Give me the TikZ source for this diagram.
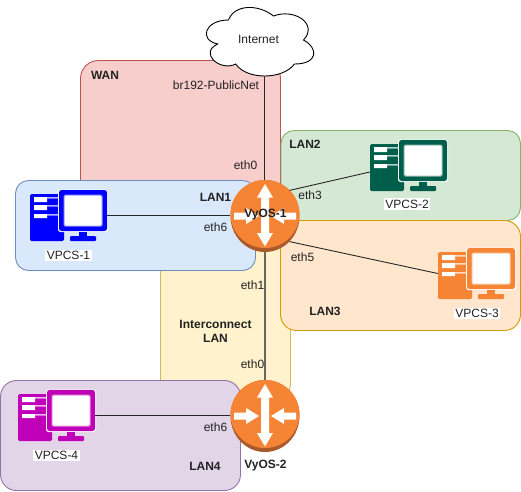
\documentclass[tikz,border=0pt]{standalone}
\usepackage{fontspec}
\setmainfont{Liberation Sans}
\usetikzlibrary{shapes.geometric}
\definecolor{rorange}{HTML}{F58534}
\definecolor{rdark}{HTML}{A9592A}
\definecolor{txt}{HTML}{222222}
\definecolor{pcblue}{HTML}{0000FF}
\definecolor{pcgreen}{HTML}{005F4B}
\definecolor{pcorange}{HTML}{F58534}
\definecolor{pcpurple}{HTML}{BF00B8}
\definecolor{zyd}{HTML}{D6B656}\definecolor{zyf}{HTML}{FFF2CC}
\definecolor{zrd}{HTML}{B85450}\definecolor{zrf}{HTML}{F8CECC}
\definecolor{zgd}{HTML}{82B366}\definecolor{zgf}{HTML}{D5E8D4}
\definecolor{zod}{HTML}{D79B00}\definecolor{zof}{HTML}{FFE6CC}
\definecolor{zbd}{HTML}{6C8EBF}\definecolor{zbf}{HTML}{DAE8FC}
\definecolor{zpd}{HTML}{9673A6}\definecolor{zpf}{HTML}{E1D5E7}
\tikzset{
  x=1pt,y=-1pt,
  zone/.style={line width=0.9pt},
  lbl/.style={font=\fontsize{12}{14}\selectfont,text=txt,inner sep=0pt,align=center},
  blbl/.style={lbl,font=\fontsize{12}{14}\selectfont\bfseries},
  pclbl/.style={lbl,fill=white,inner sep=1.5pt},
  routerbox/.style={ellipse,minimum width=69pt,minimum height=72pt,inner sep=0pt,draw=none},
  pcbox/.style={rectangle,minimum width=77pt,minimum height=51pt,inner sep=0pt,draw=none},
  link/.style={draw=black!85,line width=0.9pt},
}
% PC icon: name, colour, dx, dy
\newcommand{\pcicon}[4]{%
  \begin{scope}[shift={(#3,#4)}]
    \fill[#2,rounded corners=1.5pt] (30,194) rectangle (64,241);
    \fill[white] (34,197) rectangle (47,202) (34,205) rectangle (47,210) (34,214) rectangle (47,218);
    \fill[white!70!#2] (47,197) rectangle (58,198.5) (47,205) rectangle (58,206.5) (47,214) rectangle (58,215.5);
    \fill[white,rounded corners=2.5pt] (58,189.5) rectangle (108,232);
    \fill[#2,rounded corners=2.5pt] (59,190) rectangle (107,231);
    \fill[white!60!#2,rounded corners=1.5pt] (63.5,194.5) rectangle (102.5,226.5);
    \fill[white,rounded corners=1.5pt] (64.5,195.5) rectangle (101.5,225.5);
    \fill[#2] (79,232) rectangle (87,236);
    \fill[#2,rounded corners=1pt] (70,236) rectangle (96,241);
    \node[pcbox] (#1) at (68.5,215.5) {};
  \end{scope}}
% router icon: name, x, y
\newcommand{\routericon}[3]{%
  \fill[rdark] (#2,#3) ellipse [x radius=34.5,y radius=36];
  \fill[rorange] (#2,#3-2) ellipse [x radius=34.5,y radius=34];
  \fill[white] (#2,#3-32) -- (#2+8,#3-18.5) -- (#2+4,#3-18.5) -- (#2+4,#3+17) -- (#2+8,#3+17)
     -- (#2,#3+30.5) -- (#2-8,#3+17) -- (#2-4,#3+17) -- (#2-4,#3-18.5) -- (#2-8,#3-18.5) -- cycle;
  \fill[white] (#2-31,#3-3.5) -- (#2-19,#3-3.5) -- (#2-19,#3-8) -- (#2-6,#3) -- (#2-19,#3+8) -- (#2-19,#3+3.5) -- (#2-31,#3+3.5) -- cycle;
  \fill[white] (#2+31,#3-3.5) -- (#2+19,#3-3.5) -- (#2+19,#3-8) -- (#2+6,#3) -- (#2+19,#3+8) -- (#2+19,#3+3.5) -- (#2+31,#3+3.5) -- cycle;
  \node[routerbox] (#1) at (#2,#3) {};}
\begin{document}
\begin{tikzpicture}
\useasboundingbox (0,0) rectangle (521,491);
% zones
\draw[zone,draw=zyd,fill=zyf,rounded corners=16pt] (160.5,240) rectangle (290.5,400);
\draw[zone,draw=zrd,fill=zrf,rounded corners=18pt] (80.5,60.5) rectangle (280.5,240);
\draw[zone,draw=zgd,fill=zgf,rounded corners=13pt] (281,130.5) rectangle (520.5,220.5);
\draw[zone,draw=zod,fill=zof,rounded corners=16pt] (280.5,220.5) rectangle (520.5,330.5);
\draw[zone,draw=zbd,fill=zbf,rounded corners=13pt] (15.5,180.5) rectangle (255.5,270.5);
\draw[zone,draw=zpd,fill=zpf,rounded corners=16pt] (0.5,380.5) rectangle (240.5,490.5);
% cloud
\coordinate (cloudfoot) at (264.5,76);
\fill[white,draw=black,line width=0.9pt]
  (228.5,20)
  .. controls (204.5,20) and (198.5,40) .. (217.7,44)
  .. controls (198.5,52.8) and (220.1,72) .. (235.7,64)
  .. controls (246.5,80) and (282.5,80) .. (294.5,64)
  .. controls (318.5,64) and (318.5,48) .. (303.5,40)
  .. controls (318.5,24) and (294.5,8) .. (273.5,16)
  .. controls (258.5,4) and (234.5,4) .. (228.5,20) -- cycle;
\node[lbl] (inet) at (258.5,39) {Internet};
% icons
\routericon{r1}{265}{216}
\routericon{r2}{265}{416}
\pcicon{pc1}{pcblue}{0}{0}
\pcicon{pc2}{pcgreen}{340}{-50}
\pcicon{pc3}{pcorange}{408}{58}
\pcicon{pc4}{pcpurple}{-12}{200}
% connectors
\draw[link] (cloudfoot) -- (cloudfoot |- r1.north);
\draw[draw=black!60,line width=1.5pt] (r1.south) -- (r2.north);
\draw[link] (pc1.east) -- (pc1.east -| r1.west);
\draw[link] (r1.north east) -- ([yshift=-6.5pt]pc2.west);
\draw[link] (r1.south east) -- (pc3.west);
\draw[link] (pc4.east) -- (pc4.east -| r2.west);
% labels
\node[blbl] (t1) at (265.5,215) {VyOS-1};
\node[blbl] (t2) at (265.5,466) {VyOS-2};
\node[blbl] (t3) at (105,75) {WAN};
\node[blbl] (t4) at (215.5,197) {LAN1};
\node[blbl] (t5) at (305,144) {LAN2};
\node[blbl] (t6) at (325,311) {LAN3};
\node[blbl] (t7) at (205,466) {LAN4};
\node[blbl] (t8) at (215.5,331) {Interconnect\\LAN};
\node[lbl] (t9) at (216,85) {br192-PublicNet};
\node[lbl] (t10) at (245.5,165) {eth0};
\node[lbl] (t11) at (215.5,227) {eth6};
\node[lbl] (t12) at (310,195) {eth3};
\node[lbl] (t13) at (302.5,257) {eth5};
\node[lbl] (t14) at (252.5,285) {eth1};
\node[lbl] (t15) at (252.5,364) {eth0};
\node[lbl] (t16) at (215.5,427) {eth6};
\node[pclbl] (t17) at (68.5,255.5) {VPCS-1};
\node[pclbl] (t18) at (407,204) {VPCS-2};
\node[pclbl] (t19) at (477,313.5) {VPCS-3};
\node[pclbl] (t20) at (56.5,455.5) {VPCS-4};
\end{tikzpicture}
\end{document}
